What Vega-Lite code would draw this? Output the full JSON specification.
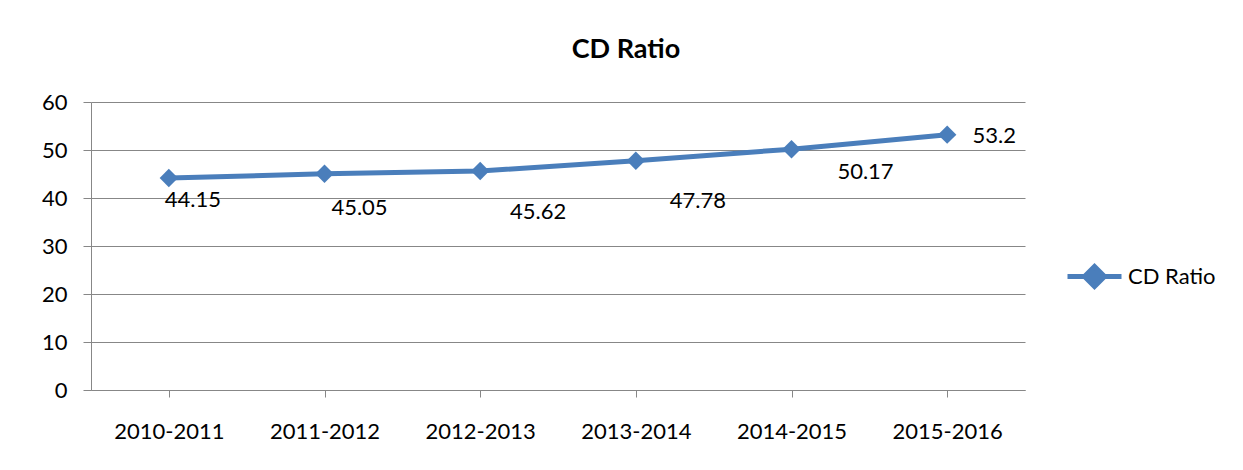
{
  "$schema": "https://vega.github.io/schema/vega-lite/v6.json",
  "autosize": {"type": "none"},
  "width": 934,
  "height": 288,
  "padding": {"left": 91, "top": 102, "right": 218, "bottom": 80},
  "background": "white",
  "title": {
    "text": "CD Ratio",
    "font": "Lato",
    "fontSize": 27,
    "fontWeight": "bold",
    "color": "#000000",
    "anchor": "middle",
    "frame": "group",
    "baseline": "alphabetic",
    "offset": 6,
    "dx": 68
  },
  "data": {
    "values": [
      {"year": "2010-2011", "ratio": 44.15, "series": "CD Ratio"},
      {"year": "2011-2012", "ratio": 45.05, "series": "CD Ratio"},
      {"year": "2012-2013", "ratio": 45.62, "series": "CD Ratio"},
      {"year": "2013-2014", "ratio": 47.78, "series": "CD Ratio"},
      {"year": "2014-2015", "ratio": 50.17, "series": "CD Ratio"},
      {"year": "2015-2016", "ratio": 53.2, "series": "CD Ratio"}
    ]
  },
  "encoding": {
    "x": {
      "field": "year",
      "type": "ordinal",
      "scale": {"paddingInner": 0, "paddingOuter": 0},
      "axis": {
        "title": null,
        "labelAngle": 0,
        "bandPosition": 0,
        "labelFont": "Lato",
        "labelFontSize": 22,
        "labelColor": "#000000",
        "labelPadding": 24,
        "tickSize": 7,
        "tickColor": "#878787",
        "domainColor": "#878787",
        "domainWidth": 1,
        "tickWidth": 1,
        "grid": false
      }
    },
    "y": {
      "field": "ratio",
      "type": "quantitative",
      "scale": {"domain": [0, 60], "nice": false},
      "axis": {
        "title": null,
        "values": [0, 10, 20, 30, 40, 50, 60],
        "labelFont": "Lato",
        "labelFontSize": 22,
        "labelColor": "#000000",
        "labelPadding": 16,
        "tickSize": 8,
        "tickColor": "#878787",
        "domainColor": "#878787",
        "gridColor": "#878787",
        "gridWidth": 1,
        "grid": true
      }
    }
  },
  "layer": [
    {
      "mark": {"type": "line", "strokeWidth": 5, "color": "#4A7EBB"},
      "encoding": {
        "color": {
          "field": "series",
          "type": "nominal",
          "scale": {"range": ["#4A7EBB"]},
          "legend": {
            "title": null,
            "orient": "none",
            "legendX": 974,
            "legendY": 145,
            "symbolType": "M-1,0H1M0,-0.37L0.37,0L0,0.37L-0.37,0Z",
            "symbolSize": 2916,
            "symbolStrokeWidth": 5,
            "symbolFillColor": "#4A7EBB",
            "symbolStrokeColor": "#4A7EBB",
            "labelFont": "Lato",
            "labelFontSize": 22,
            "labelColor": "#000000",
            "labelOffset": 4
          }
        }
      }
    },
    {
      "mark": {"type": "point", "shape": "diamond", "filled": true, "size": 340, "color": "#4A7EBB", "opacity": 1}
    },
    {
      "transform": [{"filter": "datum.year == '2010-2011'"}],
      "mark": {"type": "text", "font": "Lato", "fontSize": 22, "color": "#000000", "align": "center", "baseline": "middle", "dx": 24, "dy": 22},
      "encoding": {"text": {"field": "ratio", "type": "quantitative"}}
    },
    {
      "transform": [{"filter": "datum.year == '2011-2012'"}],
      "mark": {"type": "text", "font": "Lato", "fontSize": 22, "color": "#000000", "align": "center", "baseline": "middle", "dx": 35, "dy": 34},
      "encoding": {"text": {"field": "ratio", "type": "quantitative"}}
    },
    {
      "transform": [{"filter": "datum.year == '2012-2013'"}],
      "mark": {"type": "text", "font": "Lato", "fontSize": 22, "color": "#000000", "align": "center", "baseline": "middle", "dx": 58, "dy": 41},
      "encoding": {"text": {"field": "ratio", "type": "quantitative"}}
    },
    {
      "transform": [{"filter": "datum.year == '2013-2014'"}],
      "mark": {"type": "text", "font": "Lato", "fontSize": 22, "color": "#000000", "align": "center", "baseline": "middle", "dx": 62, "dy": 40},
      "encoding": {"text": {"field": "ratio", "type": "quantitative"}}
    },
    {
      "transform": [{"filter": "datum.year == '2014-2015'"}],
      "mark": {"type": "text", "font": "Lato", "fontSize": 22, "color": "#000000", "align": "center", "baseline": "middle", "dx": 74, "dy": 23},
      "encoding": {"text": {"field": "ratio", "type": "quantitative"}}
    },
    {
      "transform": [{"filter": "datum.year == '2015-2016'"}],
      "mark": {"type": "text", "font": "Lato", "fontSize": 22, "color": "#000000", "align": "center", "baseline": "middle", "dx": 47, "dy": 1},
      "encoding": {"text": {"field": "ratio", "type": "quantitative"}}
    }
  ],
  "config": {
    "view": {"stroke": null},
    "axis": {"labelFontWeight": "normal"}
  }
}
